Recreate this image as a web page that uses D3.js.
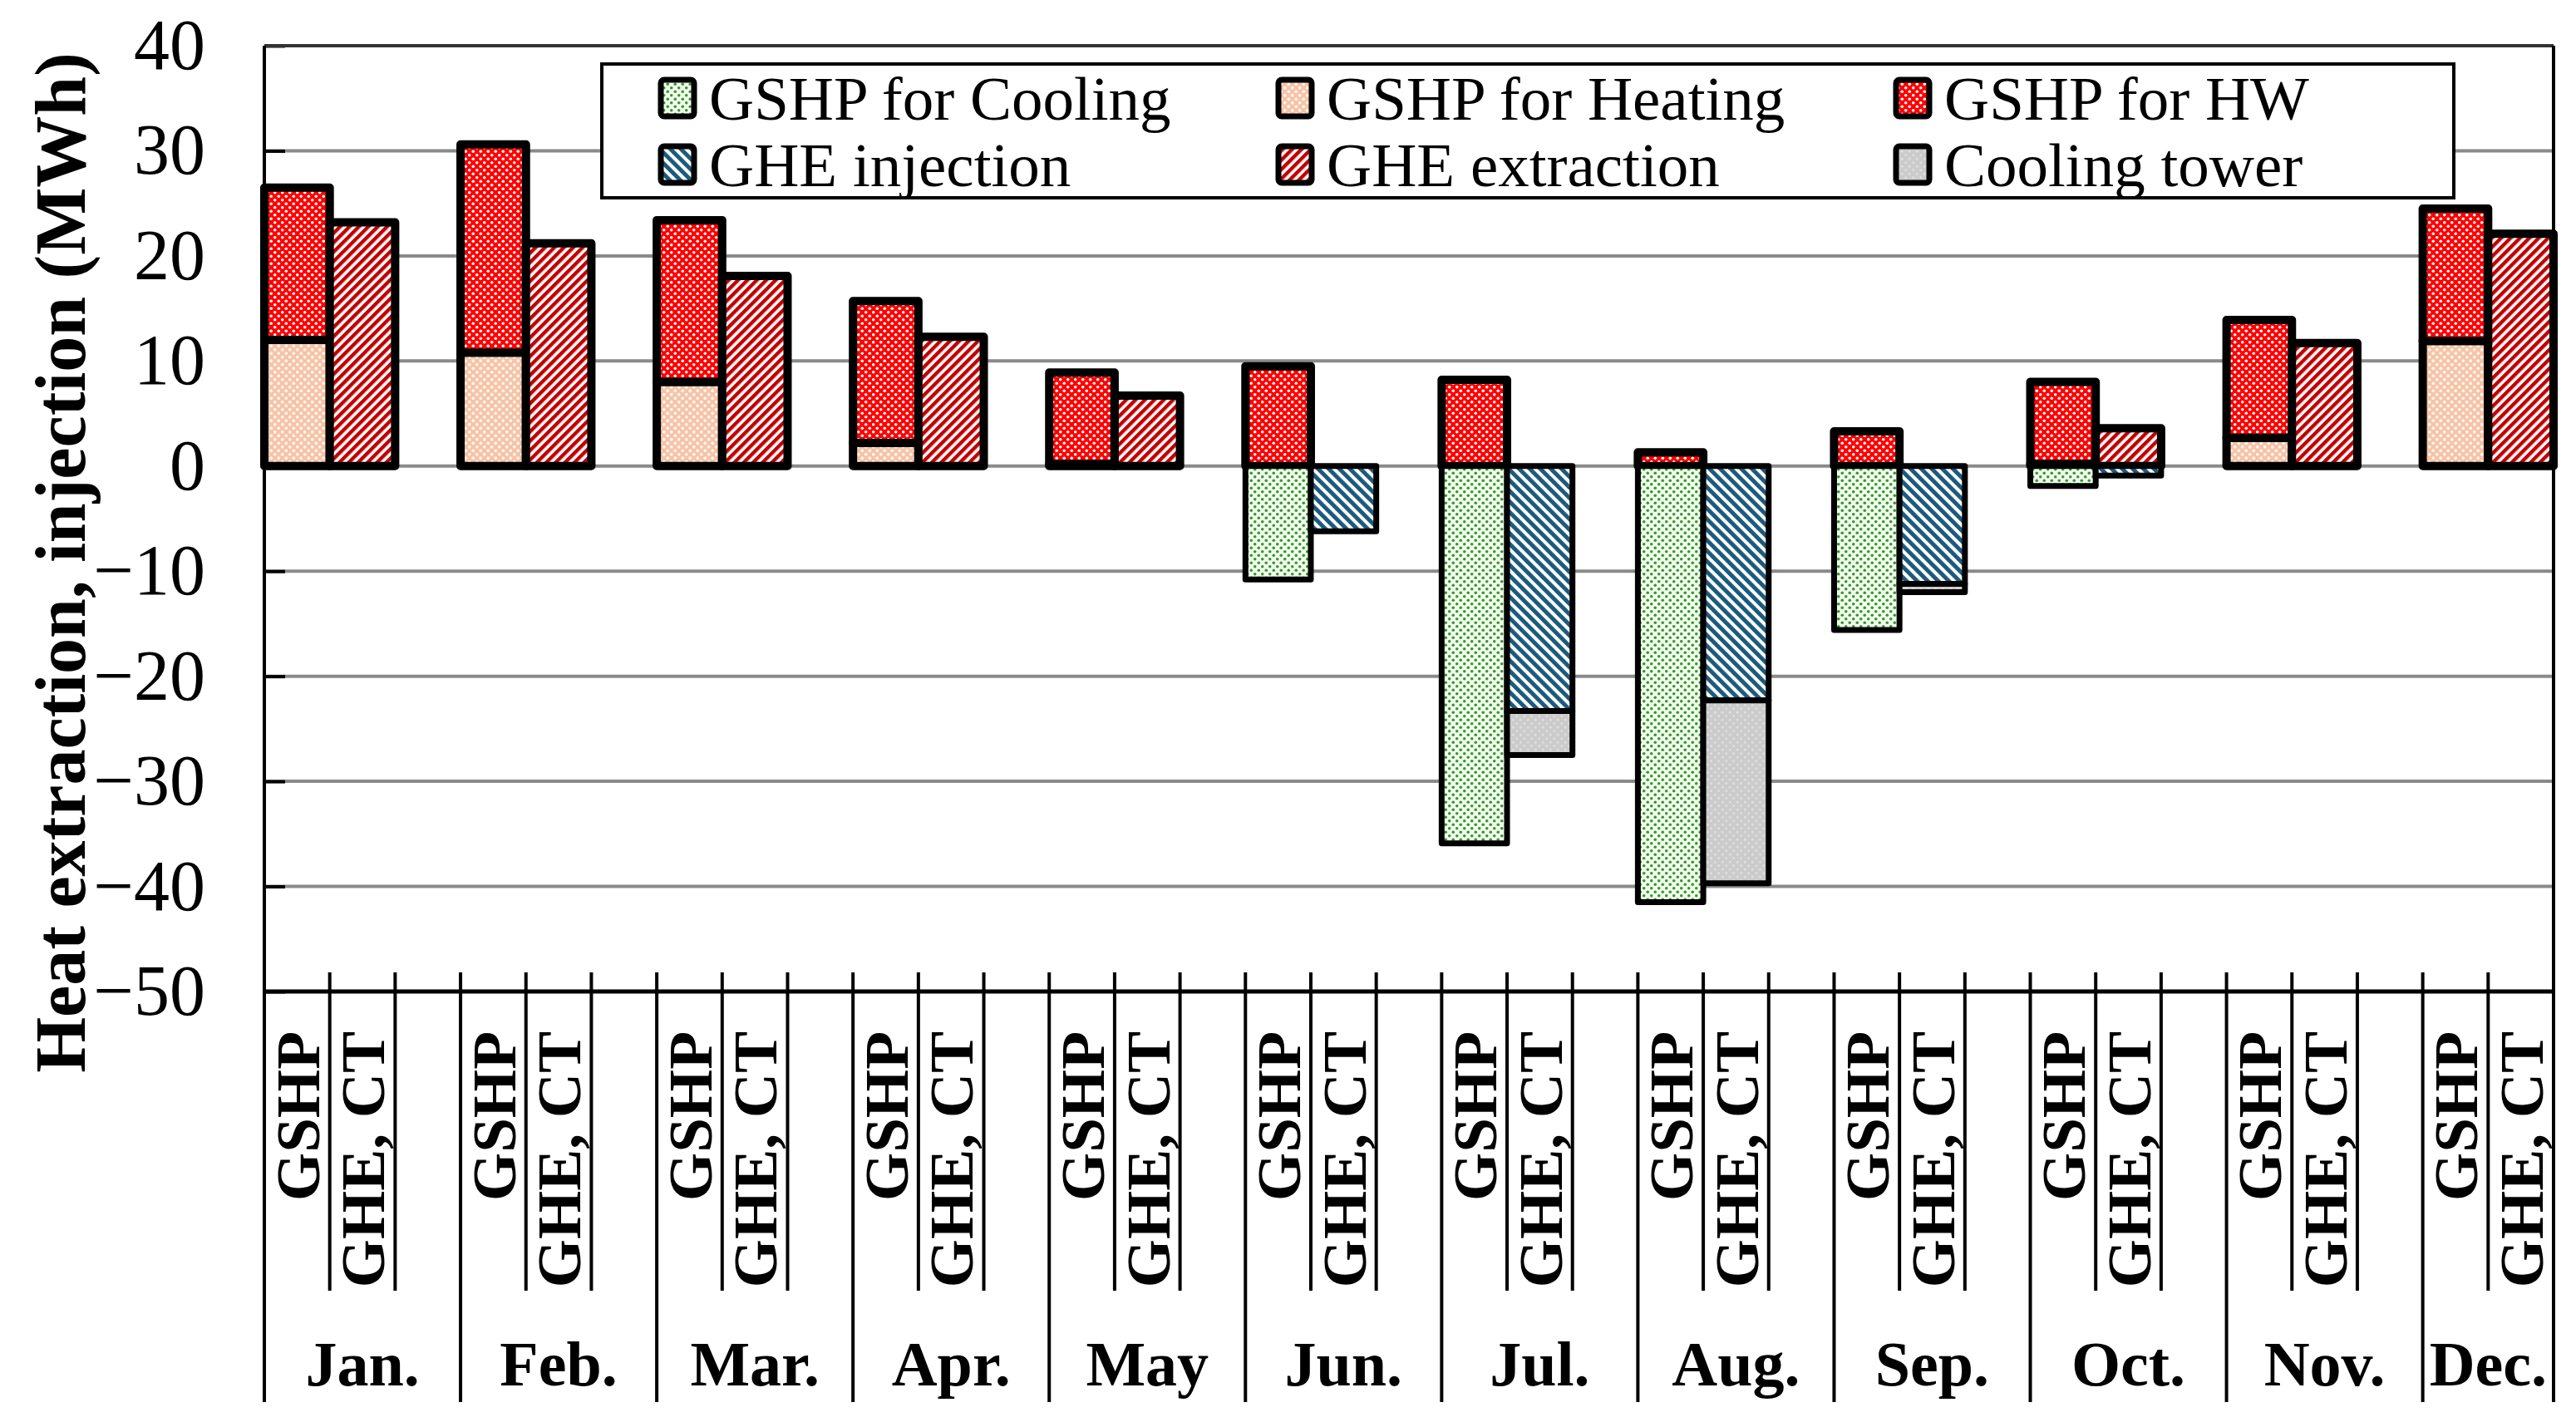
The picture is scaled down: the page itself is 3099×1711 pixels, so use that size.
<!DOCTYPE html>
<html>
<head>
<meta charset="utf-8">
<script src="https://cdn.jsdelivr.net/npm/d3@7"></script>
<style>
  body { margin: 0; background: #fff; }
  svg { display: block; }
  text { font-family: "Liberation Serif", "Times New Roman", serif; }
</style>
</head>
<body>
<div id="chart"></div>
<script>
// Monthly values (MWh)
const months = ["Jan.", "Feb.", "Mar.", "Apr.", "May", "Jun.", "Jul.", "Aug.", "Sep.", "Oct.", "Nov.", "Dec."];
const gshpHeating = [12.0, 10.8, 8.0, 2.2, 0.2, 0, 0, 0, 0, 0.2, 2.7, 11.9];
const gshpHW = [14.5, 19.8, 15.4, 13.5, 8.7, 9.5, 8.2, 1.3, 3.3, 7.8, 11.2, 12.6];
const gshpCooling = [0, 0, 0, 0, 0, -10.8, -35.9, -41.5, -15.6, -1.9, 0, 0];
const gheExtraction = [23.2, 21.2, 18.1, 12.3, 6.7, 0, 0, 0, 0, 3.6, 11.7, 22.1];
const gheInjection = [0, 0, 0, 0, 0, -6.2, -23.3, -22.3, -11.2, -0.9, 0, 0];
const coolingTower = [0, 0, 0, 0, 0, 0, -4.2, -17.4, -0.8, 0, 0, 0];
const yTicks = [40, 30, 20, 10, 0, -10, -20, -30, -40, -50];
const barNames = ["GSHP", "GHE, CT"];

const W = 3099, H = 1711;
const svg = d3.select("#chart").append("svg").attr("width", W).attr("height", H);

// plot area
const pLeft = 318, pRight = 3072, pTop = 55, pBottom = 1193;
const x = d3.scaleLinear().domain([0, 35]).range([pLeft, pRight]); // 3 slots per month, last month cut
const y = d3.scaleLinear().domain([-50, 40]).range([pBottom, pTop]);
const slot = x(1) - x(0);

// patterns
const defs = svg.append("defs");
function dots(id, bg, fg, size, r, offs) {
    const p = defs.append("pattern").attr("id", id).attr("patternUnits", "userSpaceOnUse")
        .attr("width", size).attr("height", size);
    p.append("rect").attr("width", size).attr("height", size).attr("fill", bg);
    offs.forEach(([a, b]) => p.append("circle").attr("cx", a).attr("cy", b).attr("r", r).attr("fill", fg));
}
function stripes(id, fg, size, angle) {
    const p = defs.append("pattern").attr("id", id).attr("patternUnits", "userSpaceOnUse")
        .attr("width", size).attr("height", size).attr("patternTransform", `rotate(${angle})`);
    p.append("rect").attr("width", size).attr("height", size).attr("fill", "#fff");
    p.append("rect").attr("width", size * 0.55).attr("height", size).attr("fill", fg);
}
dots("pCool", "#f4fbef", "#2f9a28", 9, 1.8, [[2.25, 2.25], [6.75, 6.75]]);
dots("pHeat", "#f6c3a6", "#fff4ee", 9, 1.9, [[2.25, 2.25], [6.75, 6.75]]);
dots("pHW", "#ff0000", "#ffffff", 9, 1.8, [[2.25, 2.25], [6.75, 6.75]]);
stripes("pInj", "#1c5a7c", 9, -45);
stripes("pExt", "#c00000", 8, 45);
dots("pCT", "#cbcbcb", "#e0e0e0", 9, 1.4, [[2.25, 2.25], [6.75, 6.75]]);

const series = [
    { name: "GSHP for Cooling", fill: "url(#pCool)" },
    { name: "GSHP for Heating", fill: "url(#pHeat)" },
    { name: "GSHP for HW", fill: "url(#pHW)" },
    { name: "GHE injection", fill: "url(#pInj)" },
    { name: "GHE extraction", fill: "url(#pExt)" },
    { name: "Cooling tower", fill: "url(#pCT)" }
];

// gridlines
svg.append("g").selectAll("line").data(yTicks.filter(d => d > -50 && d < 40)).enter()
    .append("line")
    .attr("x1", pLeft).attr("x2", pRight)
    .attr("y1", d => y(d)).attr("y2", d => y(d))
    .attr("stroke", "#8a8a8a").attr("stroke-width", 4);

// y axis with inner ticks
const yAxis = svg.append("g").attr("transform", `translate(${pLeft},0)`)
    .call(d3.axisLeft(y).tickValues(yTicks).tickSize(-25).tickPadding(71));
yAxis.select(".domain").remove();
yAxis.selectAll(".tick line").attr("stroke", "#000").attr("stroke-width", 4);
yAxis.selectAll(".tick text").style("font-size", "86px").attr("fill", "#000")
    .style("font-family", "'Liberation Serif', serif");

// bar segments
const segs = [];
months.forEach((m, i) => {
    const s0 = 3 * i, s1 = 3 * i + 1;
    segs.push({ s: s0, y0: 0, y1: gshpHeating[i], k: 1, w: 10 });
    segs.push({ s: s0, y0: gshpHeating[i], y1: gshpHeating[i] + gshpHW[i], k: 2, w: 10 });
    segs.push({ s: s0, y0: gshpCooling[i], y1: 0, k: 0, w: 7 });
    segs.push({ s: s1, y0: 0, y1: gheExtraction[i], k: 4, w: 10 });
    segs.push({ s: s1, y0: gheInjection[i], y1: 0, k: 3, w: 7 });
    segs.push({ s: s1, y0: gheInjection[i] + coolingTower[i], y1: gheInjection[i], k: 5, w: 7 });
});
svg.append("g").selectAll("rect").data(segs.filter(d => d.y1 !== d.y0)).enter()
    .append("rect")
    .attr("x", d => x(d.s))
    .attr("width", slot)
    .attr("y", d => y(d.y1))
    .attr("height", d => y(d.y0) - y(d.y1))
    .attr("fill", d => series[d.k].fill)
    .attr("stroke", "#000")
    .attr("stroke-width", d => d.w)
    .attr("stroke-linejoin", "round");

// frame
const frame = svg.append("g").attr("stroke", "#000").attr("stroke-width", 4);
frame.append("line").attr("x1", pLeft).attr("x2", pRight).attr("y1", pTop).attr("y2", pTop).attr("stroke", "#333");
frame.append("line").attr("x1", pLeft).attr("x2", pRight).attr("y1", pBottom).attr("y2", pBottom).attr("stroke-width", 5);
frame.append("line").attr("x1", pLeft).attr("x2", pLeft).attr("y1", pTop).attr("y2", 1687);
frame.append("line").attr("x1", pRight).attr("x2", pRight).attr("y1", pTop).attr("y2", 1687);

// category dividers
const divs = [];
d3.range(1, 35).forEach(s => divs.push({ s, long: s % 3 === 0 }));
frame.selectAll(".div").data(divs).enter().append("line")
    .attr("x1", d => x(d.s)).attr("x2", d => x(d.s))
    .attr("y1", 1170).attr("y2", d => d.long ? 1687 : 1553);

// rotated bar names
const names = [];
months.forEach((m, i) => barNames.forEach((n, j) => names.push({ s: 3 * i + j + 0.5, n })));
svg.append("g").selectAll("text").data(names).enter().append("text")
    .attr("transform", d => `translate(${x(d.s)},1241) rotate(-90)`)
    .attr("dy", "0.35em")
    .attr("text-anchor", "end")
    .style("font-size", "75px").style("font-weight", "bold")
    .text(d => d.n);

// month labels
svg.append("g").selectAll("text").data(months).enter().append("text")
    .attr("x", (d, i) => i < 11 ? x(3 * i + 1.5) : x(34))
    .attr("y", 1667)
    .attr("text-anchor", "middle")
    .style("font-size", "76px").style("font-weight", "bold")
    .text(d => d);

// y title
svg.append("text")
    .attr("transform", "translate(72,677) rotate(-90)")
    .attr("dy", "0.35em")
    .attr("text-anchor", "middle")
    .style("font-size", "86px").style("font-weight", "bold")
    .text("Heat extraction, injection (MWh)");

// legend
const lg = svg.append("g");
lg.append("rect").attr("x", 724).attr("y", 77).attr("width", 2228).attr("height", 161)
    .attr("fill", "#fff").attr("stroke", "#000").attr("stroke-width", 4);
const colX = [795, 1538, 2281];
const rowY = [118, 198];
series.forEach((s, i) => {
    const cx = colX[i % 3], cy = rowY[Math.floor(i / 3)];
    lg.append("rect").attr("x", cx).attr("y", cy - 22).attr("width", 40).attr("height", 44)
        .attr("rx", 4).attr("fill", s.fill).attr("stroke", "#000").attr("stroke-width", 7);
    lg.append("text").attr("x", cx + 58).attr("y", cy).attr("dy", "0.35em")
        .style("font-size", "75px").text(s.name);
});
</script>
</body>
</html>
